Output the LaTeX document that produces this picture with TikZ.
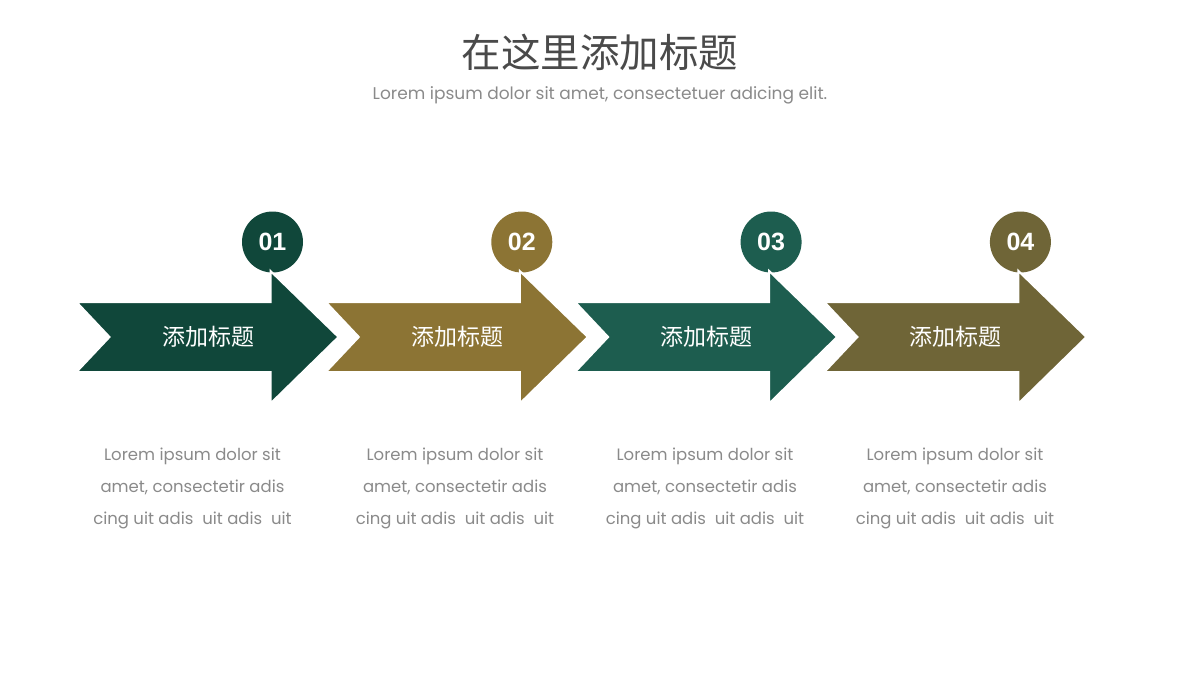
\documentclass[tikz,border=0pt]{standalone}
\usepackage{fontspec}
\setmainfont{Poppins}
\newfontfamily\cjk{Noto Sans CJK SC}
\newfontfamily\numfont{Liberation Sans}
\usepackage{tikz}
\usetikzlibrary{positioning}

\definecolor{darkgreen}{HTML}{10473A}
\definecolor{goldbrown}{HTML}{8C7434}
\definecolor{tealgreen}{HTML}{1D5D4F}
\definecolor{olivebrown}{HTML}{6F6537}
\definecolor{titlegray}{HTML}{4A4A4A}
\definecolor{textgray}{HTML}{8A8A8A}

\tikzset{
  chevron/.style={draw=white, line width=2pt, line join=miter},
  badge/.style={circle, minimum size=61pt, inner sep=0pt, text=white,
                font=\numfont\bfseries\fontsize{25}{25}\selectfont},
  steplabel/.style={text=white, font=\cjk\fontsize{23}{23}\selectfont},
  desctext/.style={text=textgray, align=center, font=\fontsize{16.5}{32}\selectfont}
}

\begin{document}
\begin{tikzpicture}[x=1pt,y=-1pt]
  \useasboundingbox (0,0) rectangle (1200,675);
  \node[text=titlegray, font=\cjk\fontsize{39.5}{40}\selectfont] (title) at (600,52) {在这里添加标题};
  \node[text=textgray, font=\fontsize{17}{18}\selectfont] (subtitle) at (600,95)
       {Lorem ipsum dolor sit amet, consectetuer adicing elit.};
  \foreach \i/\col/\dx in {1/darkgreen/192.5, 2/goldbrown/455, 3/tealgreen/705, 4/olivebrown/955} {
    \pgfmathsetmacro{\xo}{76.5+249.3*(\i-1)}
    \node[badge, fill=\col] (num\i) at (\xo+196,242) {0\i};
    \draw[chevron, fill=\col] (\xo,302) -- (\xo+194,302) -- (\xo+194,271) -- (\xo+262,337)
      -- (\xo+194,403.5) -- (\xo+194,372) -- (\xo,372) -- (\xo+33,337) -- cycle;
    \node[steplabel] (lbl\i) at (\xo+131.5,337) {添加标题};
    \node[desctext] (desc\i) at (\dx,488) {Lorem ipsum dolor sit\\amet, consectetir adis\\cing uit adis~ uit adis~ uit};
  }
\end{tikzpicture}
\end{document}
